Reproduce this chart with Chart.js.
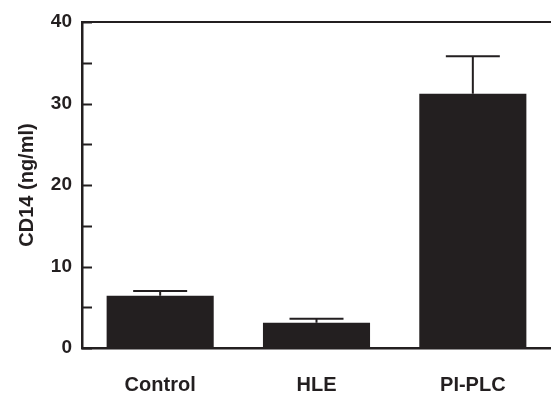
<!DOCTYPE html>
<html>
<head>
<meta charset="utf-8">
<script src="https://cdn.jsdelivr.net/npm/chart.js@4"></script>
<style>
  html, body { margin: 0; padding: 0; background: #fff; }
  #wrap { width: 551px; height: 397px; }
</style>
</head>
<body>
<div id="wrap"><canvas id="cd14Chart" width="551" height="397"></canvas></div>
<script>
// values
const groups = ['Control', 'HLE', 'PI-PLC'];
const cd14Mean = [6.4, 3.1, 31.2];
const cd14Err = [0.6, 0.5, 4.6];
const yTicks = [0, 10, 20, 30, 40];
const minorTicks = [5, 15, 25, 35];

const ink = '#231f20';
const fontFam = 'Liberation Sans, Arial, sans-serif';

// error bars (upper only), inward tick marks and the top frame line
const extrasPlugin = {
    id: 'extras',
    afterDatasetsDraw(chart) {
        const ctx = chart.ctx;
        const y = chart.scales.y;
        const area = chart.chartArea;
        const meta = chart.getDatasetMeta(0);
        ctx.save();
        ctx.strokeStyle = ink;
        ctx.lineWidth = 2;

        meta.data.forEach((bar, i) => {
            const yBar = y.getPixelForValue(cd14Mean[i]);
            const yTop = y.getPixelForValue(cd14Mean[i] + cd14Err[i]);
            ctx.beginPath();
            ctx.moveTo(bar.x, yBar);
            ctx.lineTo(bar.x, yTop);
            ctx.moveTo(bar.x - 27, yTop);
            ctx.lineTo(bar.x + 27, yTop);
            ctx.stroke();
        });

        // ticks pointing into the plot
        yTicks.concat(minorTicks).forEach(v => {
            const py = Math.round(y.getPixelForValue(v)) + 0.5;
            ctx.beginPath();
            ctx.moveTo(area.left, py);
            ctx.lineTo(area.left + 10, py);
            ctx.stroke();
        });

        // top frame
        ctx.beginPath();
        ctx.moveTo(area.left - 1, area.top);
        ctx.lineTo(area.right, area.top);
        ctx.stroke();
        ctx.restore();
    }
};

const ctx = document.getElementById('cd14Chart').getContext('2d');
const cd14Chart = new Chart(ctx, {
    type: 'bar',
    data: {
        labels: groups,
        datasets: [{
            label: 'CD14',
            data: cd14Mean,
            backgroundColor: ink,
            borderWidth: 0,
            barPercentage: 0.685,
            categoryPercentage: 1
        }]
    },
    options: {
        responsive: false,
        animation: false,
        layout: { padding: { top: 22, right: 0, left: 0, bottom: 0 } },
        plugins: {
            legend: { display: false },
            tooltip: { enabled: false }
        },
        scales: {
            x: {
                grid: { display: false, drawTicks: false },
                border: { display: true, color: ink, width: 2.5 },
                ticks: {
                    color: ink,
                    padding: 25,
                    font: { family: fontFam, size: 20, weight: 'bold' }
                },
                afterFit(scale) { scale.height = 49; }
            },
            y: {
                min: 0,
                max: 40,
                grid: { display: false, drawTicks: false },
                border: { display: true, color: ink, width: 2.5 },
                ticks: {
                    stepSize: 10,
                    color: ink,
                    padding: 10,
                    font: { family: fontFam, size: 19, weight: 'bold' }
                },
                title: {
                    display: true,
                    text: 'CD14 (ng/ml)',
                    color: ink,
                    padding: { top: 15, bottom: 0 },
                    font: { family: fontFam, size: 20, weight: 'bold' }
                },
                afterFit(scale) { scale.width = 82; }
            }
        }
    },
    plugins: [extrasPlugin]
});
</script>
</body>
</html>
